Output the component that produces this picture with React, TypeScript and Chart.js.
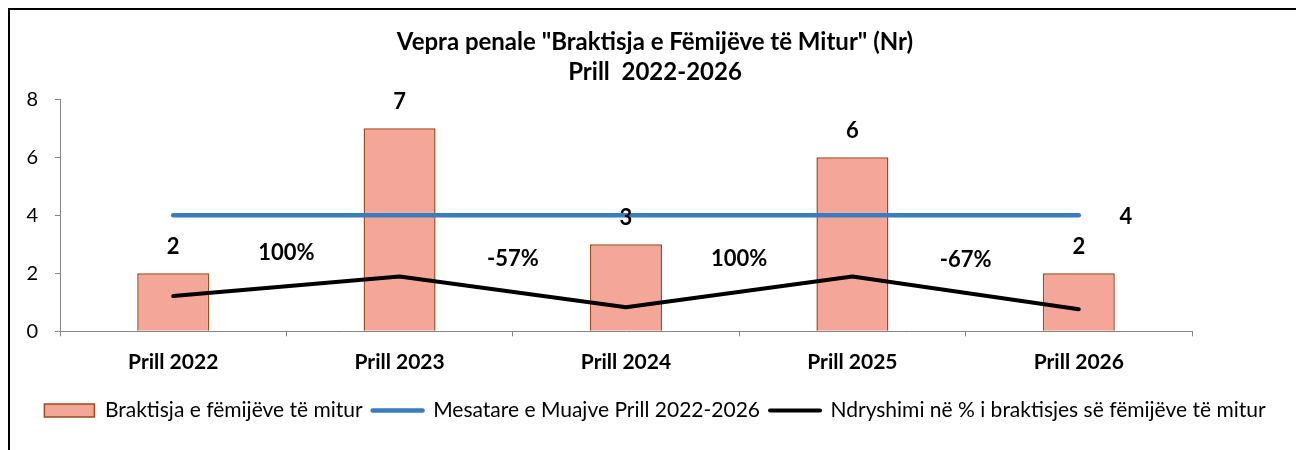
import React, { useEffect, useRef } from "react";
import { Chart, registerables } from "chart.js";

Chart.register(...registerables);

const FONT = "Lato, 'Open Sans', sans-serif";

const titleLines = ['Vepra penale "Braktisja e Fëmijëve të Mitur" (Nr)', "Prill  2022-2026"];
const categories = ["Prill 2022", "Prill 2023", "Prill 2024", "Prill 2025", "Prill 2026"];
const seriesNames = [
  "Braktisja e fëmijëve të mitur",
  "Mesatare e Muajve Prill 2022-2026",
  "Ndryshimi në % i braktisjes së fëmijëve të mitur",
];
const caseValues = [2, 7, 3, 6, 2];
const averageValues = [4, 4, 4, 4, 4];
const changeValues = [0, 100, -57, 100, -67];
const changeLabels = ["", "100%", "-57%", "100%", "-67%"];
const yTickValues = [0, 2, 4, 6, 8];

const BAR_FILL = "#F4A698";
const BAR_BORDER = "#9C4A1E";
const AVG_COLOR = "#3A7CC0";
const CHANGE_COLOR = "#000000";
const AXIS_COLOR = "#868686";

const CANVAS_W = 1290;
const CANVAS_H = 432;
const PLOT_RIGHT = 1182;

const valueLabelPlugin = {
  id: "valueLabels",
  afterDatasetsDraw(chart: any) {
    const ctx = chart.ctx;
    ctx.save();
    ctx.fillStyle = "#000";
    ctx.font = `bold 22px ${FONT}`;
    ctx.textAlign = "center";
    ctx.textBaseline = "middle";
    const bars = chart.getDatasetMeta(0).data;
    bars.forEach((b: any, i: number) => {
      ctx.fillText(String(caseValues[i]), b.x, b.y - 26);
    });
    const avg = chart.getDatasetMeta(1).data;
    const last = avg[avg.length - 1];
    ctx.fillText(String(averageValues[averageValues.length - 1]), last.x + 47, last.y + 2);
    const ch = chart.getDatasetMeta(2).data;
    for (let i = 1; i < ch.length; i++) {
      const a = ch[i - 1];
      const b = ch[i];
      ctx.fillText(changeLabels[i], (a.x + b.x) / 2, (a.y + b.y) / 2 - 33);
    }
    ctx.restore();
  },
};

export default function App() {
  const ref = useRef<HTMLCanvasElement | null>(null);

  useEffect(() => {
    if (!ref.current) return;
    const chart = new Chart(ref.current, {
      type: "bar",
      data: {
        labels: categories,
        datasets: [
          {
            type: "bar",
            label: seriesNames[0],
            data: caseValues,
            backgroundColor: BAR_FILL,
            borderColor: BAR_BORDER,
            borderWidth: 1.5,
            barPercentage: 0.318,
            categoryPercentage: 1,
            order: 3,
            yAxisID: "y",
          },
          {
            type: "line",
            label: seriesNames[1],
            data: averageValues,
            borderColor: AVG_COLOR,
            backgroundColor: AVG_COLOR,
            borderWidth: 4.5,
            borderCapStyle: "round",
            pointRadius: 0,
            order: 2,
            yAxisID: "y",
          },
          {
            type: "line",
            label: seriesNames[2],
            data: changeValues,
            borderColor: CHANGE_COLOR,
            backgroundColor: CHANGE_COLOR,
            borderWidth: 4,
            borderCapStyle: "round",
            borderJoinStyle: "round",
            pointRadius: 0,
            order: 1,
            yAxisID: "y2",
          },
        ],
      } as any,
      options: {
        animation: false,
        responsive: false,
        maintainAspectRatio: false,
        layout: { padding: { left: 0, right: 0, top: 0, bottom: 11 } },
        scales: {
          x: {
            grid: {
              display: true,
              drawOnChartArea: false,
              drawTicks: true,
              tickLength: 5,
              color: AXIS_COLOR,
            },
            border: { display: true, color: AXIS_COLOR, width: 1 },
            ticks: {
              color: "#000",
              padding: 13,
              font: { family: FONT, size: 21, weight: "bold" },
              maxRotation: 0,
            },
            afterFit(scale: any) {
              scale.height = 58.7;
            },
          },
          y: {
            position: "left",
            min: 0,
            max: 8,
            afterBuildTicks(scale: any) {
              scale.ticks = yTickValues.map((v) => ({ value: v }));
            },
            grid: {
              display: true,
              drawOnChartArea: false,
              drawTicks: true,
              tickLength: 5,
              color: AXIS_COLOR,
            },
            border: { display: true, color: AXIS_COLOR, width: 1 },
            ticks: {
              color: "#000",
              padding: 17,
              font: { family: FONT, size: 20 },
            },
            afterFit(scale: any) {
              scale.width = 50;
            },
          },
          y2: {
            position: "right",
            min: -180,
            max: 1005,
            grid: { display: false },
            border: { display: false },
            ticks: { display: false },
            afterFit(scale: any) {
              scale.width = CANVAS_W - PLOT_RIGHT;
            },
          },
        },
        plugins: {
          title: {
            display: true,
            text: titleLines,
            color: "#000",
            font: { family: FONT, size: 24, weight: "bold", lineHeight: 1.22 },
            padding: { top: 18, bottom: 12.6 },
          },
          legend: {
            display: true,
            position: "bottom",
            labels: {
              color: "#000",
              font: { family: FONT, size: 21 },
              usePointStyle: true,
              pointStyleWidth: 50,
              boxHeight: 13,
              padding: 10,
              sort: (a: any, b: any) => a.datasetIndex - b.datasetIndex,
              generateLabels(chart: any) {
                const items = (Chart as any).defaults.plugins.legend.labels.generateLabels(chart);
                return items.map((it: any) => {
                  const ds = chart.data.datasets[it.datasetIndex];
                  if (ds.type === "bar") {
                    return { ...it, pointStyle: "rect", lineWidth: 1.5 };
                  }
                  return { ...it, pointStyle: "line", lineWidth: ds.borderWidth, lineCap: "round" };
                });
              },
            },
          },
          tooltip: { enabled: false },
        },
      } as any,
      plugins: [valueLabelPlugin],
    });
    return () => chart.destroy();
  }, []);

  return (
    <div style={{ width: 1296, height: 442, overflow: "hidden" }}>
      <div
        style={{
          width: 1330,
          height: 470,
          border: "2px solid #000",
          boxSizing: "border-box",
          background: "#fff",
        }}
      >
        <canvas
          ref={ref}
          width={CANVAS_W}
          height={CANVAS_H}
          style={{ display: "block", width: CANVAS_W, height: CANVAS_H }}
        />
      </div>
    </div>
  );
}
